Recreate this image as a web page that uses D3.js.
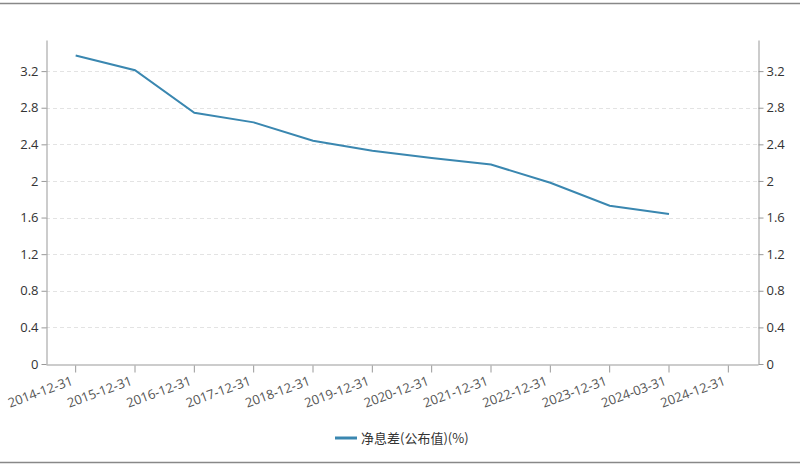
<!DOCTYPE html>
<html lang="zh">
<head>
<meta charset="UTF-8">
<title>净息差</title>
<style>
  body { margin: 0; background: #fff; }
  svg { display: block; font-family: "Open Sans", "Noto Sans CJK SC", sans-serif; }
</style>
</head>
<body>
<div class="chart"></div>
<script src="https://d3js.org/d3.v7.min.js"></script>
<script>
var w = 800, h = 465;
var dates = ["2014-12-31", "2015-12-31", "2016-12-31", "2017-12-31", "2018-12-31", "2019-12-31",
             "2020-12-31", "2021-12-31", "2022-12-31", "2023-12-31", "2024-03-31", "2024-12-31"];
var nim = [3.37, 3.21, 2.745, 2.64, 2.44, 2.33, 2.25, 2.18, 1.98, 1.73, 1.64, null];
var yTicks = [0, 0.4, 0.8, 1.2, 1.6, 2, 2.4, 2.8, 3.2];
var seriesName = "净息差(公布值)(%)";

var padL = 46, padR = 758, padT = 40, padB = 364;

var svg = d3.select(".chart").append("svg")
    .attr("width", w).attr("height", h);

// frame lines top and bottom
svg.append("line").attr("x1", 0).attr("x2", w).attr("y1", 3.5).attr("y2", 3.5)
    .attr("stroke", "#888").attr("stroke-width", 1.5);
svg.append("line").attr("x1", 0).attr("x2", w).attr("y1", 462.5).attr("y2", 462.5)
    .attr("stroke", "#888").attr("stroke-width", 1.5);

var x = d3.scaleBand().domain(dates).range([padL, padR]);
var y = d3.scaleLinear().domain([0, 3.54]).range([padB, padT]);

// grid
svg.append("g").selectAll("line").data(yTicks.filter(function(d) { return d > 0; }))
    .enter().append("line")
    .attr("x1", padL).attr("x2", padR)
    .attr("y1", function(d) { return Math.round(y(d)) + 0.5; })
    .attr("y2", function(d) { return Math.round(y(d)) + 0.5; })
    .attr("stroke", "#e3e3e3").attr("stroke-dasharray", "4,3");

function styleAxis(g) {
    g.select(".domain").attr("stroke", "#999");
    g.selectAll(".tick line").attr("stroke", "#999");
    g.selectAll(".tick text").attr("fill", "#333").style("font-size", "13px")
        .style("font-family", "'Open Sans', sans-serif");
}

var yl = svg.append("g").attr("transform", "translate(" + (padL + 0.5) + ",0)")
    .call(d3.axisLeft(y).tickValues(yTicks).tickSize(5).tickSizeOuter(0).tickFormat(d3.format("")));
styleAxis(yl);
var yr = svg.append("g").attr("transform", "translate(" + (padR + 0.5) + ",0)")
    .call(d3.axisRight(y).tickValues(yTicks).tickSize(5).tickSizeOuter(0).tickFormat(d3.format("")));
styleAxis(yr);

var xa = svg.append("g").attr("transform", "translate(0," + (padB + 0.5) + ")")
    .call(d3.axisBottom(x).tickSize(8).tickSizeOuter(0));
styleAxis(xa);
xa.selectAll(".tick line").attr("y1", 1);
xa.selectAll(".tick text")
    .attr("fill", "#555")
    .attr("text-anchor", "end")
    .attr("dy", "0")
    .attr("y", 0)
    .attr("transform", "translate(-2,20) rotate(-20)");

// line
var line = d3.line()
    .defined(function(d) { return d != null; })
    .x(function(d, i) { return x(dates[i]) + x.bandwidth() / 2; })
    .y(function(d) { return y(d); });
svg.append("path").datum(nim)
    .attr("d", line)
    .attr("fill", "none")
    .attr("stroke", "#3a87b0")
    .attr("stroke-width", 2);

// legend
var lg = svg.append("g").attr("transform", "translate(335,438)");
lg.append("line").attr("x1", 0).attr("x2", 22).attr("y1", 0).attr("y2", 0)
    .attr("stroke", "#3a87b0").attr("stroke-width", 3);
lg.append("text").attr("x", 26).attr("y", 5)
    .attr("fill", "#333").style("font-size", "13px")
    .style("font-family", "'Noto Sans CJK SC', sans-serif")
    .text(seriesName);
</script>
</body>
</html>
